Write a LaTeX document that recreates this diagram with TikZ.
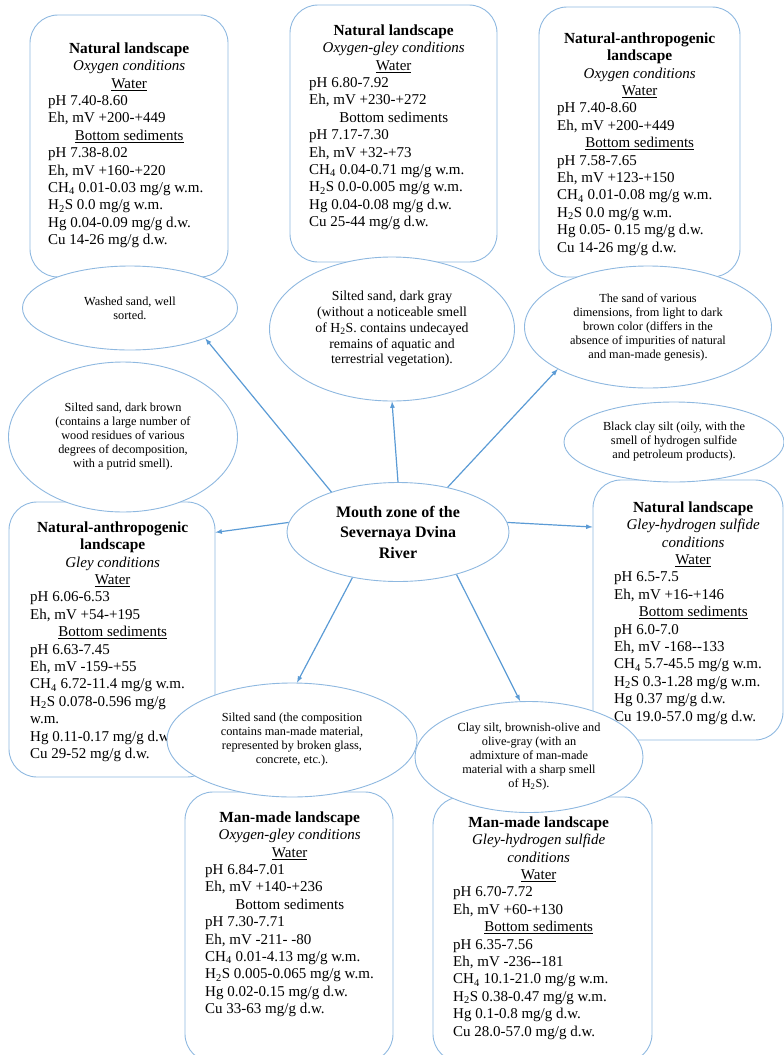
\documentclass[tikz,border=0pt]{standalone}
\usepackage{fontspec}
\setmainfont{Liberation Serif}
\usepackage{xcolor}
\usetikzlibrary{shapes.geometric}
\usetikzlibrary{arrows}
\definecolor{rimblue}{RGB}{142,184,224}
\definecolor{arrowblue}{RGB}{91,155,213}
\tikzset{
	landbox/.style={
		draw=rimblue,
		line width=.9pt,
		rectangle,
		rounded corners=28pt,
		inner sep=0pt
	},
	boxtext/.style={
		anchor=north west,
		align=left,
		inner sep=0pt,
		font=\fontsize{15}{17.4}\selectfont
	},
	soil/.style={
		draw=rimblue,
		fill=white,
		line width=.9pt,
		ellipse,
		align=center,
		inner sep=0pt,
		font=\fontsize{12.3}{14}\selectfont
	},
	ctrw/.code={\gdef\cw{#1}},
	link/.style={draw=arrowblue, line width=1.2pt, -latex}
}
\newcommand{\ctr}[1]{\makebox[\cw pt]{#1}}
\newcommand{\ttl}[1]{\ctr{\fontsize{15.4}{17.4}\selectfont\textbf{#1}}}
\newcommand{\cnd}[1]{\ctr{\textit{#1}}}
\newcommand{\chf}{CH\textsubscript{4}}
\newcommand{\hts}{H\textsubscript{2}S}

\begin{document}
\begin{tikzpicture}[x=1pt, y=-1pt]
		\clip (0,0) rectangle (784,1055);
		% landscape boxes
		\draw node[landbox, minimum width=198, minimum height=262] (NatOx) at (129,146) {};
		\draw node[landbox, minimum width=207, minimum height=257] (NatOxGley) at (393.5,133.5) {};
		\draw node[landbox, minimum width=201, minimum height=270] (NatAnthOx) at (639.5,142) {};
		\draw node[landbox, minimum width=206, minimum height=275] (NatAnthGley) at (112,639.5) {};
		\draw node[landbox, minimum width=190, minimum height=260] (NatGleyHS) at (688,610) {};
		\draw node[landbox, minimum width=208, minimum height=270] (ManOxGley) at (289,927) {};
		\draw node[landbox, minimum width=219, minimum height=265] (ManGleyHS) at (542.5,929.5) {};
		
		\node[boxtext, ctrw=162] (NatOxT) at (48,42.5) {\ttl{Natural landscape}\\ \cnd{Oxygen conditions}\\ \ctr{\underline{Water}}\\ pH 7.40-8.60\\ Eh, mV +200-+449\\ \ctr{\underline{Bottom sediments}}\\ pH 7.38-8.02\\ Eh, mV +160-+220\\ \chf{} 0.01-0.03 mg/g w.m.\\ \hts{} 0.0 mg/g w.m.\\ Hg 0.04-0.09 mg/g d.w.\\ Cu 14-26 mg/g d.w.};
		\node[boxtext, ctrw=169] (NatOxGleyT) at (309,24.5) {\ttl{Natural landscape}\\ \cnd{Oxygen-gley conditions}\\ \ctr{\underline{Water}}\\ pH 6.80-7.92\\ Eh, mV +230-+272\\ \ctr{Bottom sediments}\\ pH 7.17-7.30\\ Eh, mV +32-+73\\ \chf{} 0.04-0.71 mg/g w.m.\\ \hts{} 0.0-0.005 mg/g w.m.\\ Hg 0.04-0.08 mg/g d.w.\\ Cu 25-44 mg/g d.w.};
		\node[boxtext, ctrw=165] (NatAnthOxT) at (557,32.5) {\ttl{Natural-anthropogenic}\\ \ttl{landscape}\\ \cnd{Oxygen conditions}\\ \ctr{\underline{Water}}\\ pH 7.40-8.60\\ Eh, mV +200-+449\\ \ctr{\underline{Bottom sediments}}\\ pH 7.58-7.65\\ Eh, mV +123-+150\\ \chf{} 0.01-0.08 mg/g w.m.\\ \hts{} 0.0 mg/g w.m.\\ Hg 0.05- 0.15 mg/g d.w.\\ Cu 14-26 mg/g d.w.};
		\node[boxtext, ctrw=165] (NatAnthGleyT) at (30,521.5) {\ttl{Natural-anthropogenic}\\ \ttl{landscape}\\ \cnd{Gley conditions}\\ \ctr{\underline{Water}}\\ pH 6.06-6.53\\ Eh, mV +54-+195\\ \ctr{\underline{Bottom sediments}}\\ pH 6.63-7.45\\ Eh, mV -159-+55\\ \chf{} 6.72-11.4 mg/g w.m.\\ \hts{} 0.078-0.596 mg/g\\ w.m.\\ Hg 0.11-0.17 mg/g d.w\\ Cu 29-52 mg/g d.w.};
		\node[boxtext, ctrw=158] (NatGleyHST) at (614,501.5) {\ttl{Natural landscape}\\ \cnd{Gley-hydrogen sulfide}\\ \cnd{conditions}\\ \ctr{\underline{Water}}\\ pH 6.5-7.5\\ Eh, mV +16-+146\\ \ctr{\underline{Bottom sediments}}\\ pH 6.0-7.0\\ Eh, mV -168-{}-133\\ \chf{} 5.7-45.5 mg/g w.m.\\ \hts{} 0.3-1.28 mg/g w.m.\\ Hg 0.37 mg/g d.w.\\ Cu 19.0-57.0 mg/g d.w.};
		\node[boxtext, ctrw=169] (ManOxGleyT) at (205,811.5) {\ttl{Man-made landscape}\\ \cnd{Oxygen-gley conditions}\\ \ctr{\underline{Water}}\\ pH 6.84-7.01\\ Eh, mV +140-+236\\ \ctr{Bottom sediments}\\ pH 7.30-7.71\\ Eh, mV -211- -80\\ \chf{} 0.01-4.13 mg/g w.m.\\ \hts{} 0.005-0.065 mg/g w.m.\\ Hg 0.02-0.15 mg/g d.w.\\ Cu 33-63 mg/g d.w.};
		\node[boxtext, ctrw=171] (ManGleyHST) at (453,816.5) {\ttl{Man-made landscape}\\ \cnd{Gley-hydrogen sulfide}\\ \cnd{conditions}\\ \ctr{\underline{Water}}\\ pH 6.70-7.72\\ Eh, mV +60-+130\\ \ctr{\underline{Bottom sediments}}\\ pH 6.35-7.56\\ Eh, mV -236-{}-181\\ \chf{} 10.1-21.0 mg/g w.m.\\ \hts{} 0.38-0.47 mg/g w.m.\\ Hg 0.1-0.8 mg/g d.w.\\ Cu 28.0-57.0 mg/g d.w.};
		
		% sediment ellipses
		\draw node[soil, minimum width=215, minimum height=84] (Washed) at (130,308) {Washed sand, well\\ sorted.};
		\draw node[soil, minimum width=245, minimum height=144, font=\fontsize{13.8}{15.7}\selectfont] (SiltGray) at (392,329) {Silted sand, dark gray\\ (without a noticeable smell\\ of \hts. contains undecayed\\ remains of aquatic and\\ terrestrial vegetation).};
		\draw node[soil, minimum width=247, minimum height=122] (SandVar) at (648,327) {The sand of various\\ dimensions, from light to dark\\ brown color (differs in the\\ absence of impurities of natural\\ and man-made genesis).};
		\draw node[soil, minimum width=229, minimum height=150] (SiltBrown) at (123,437) {Silted sand, dark brown\\ (contains a large number of\\ wood residues of various\\ degrees of decomposition,\\ with a putrid smell).};
		\draw node[soil, minimum width=220, minimum height=80] (BlackSilt) at (674,442) {Black clay silt (oily, with the\\ smell of hydrogen sulfide\\ and petroleum products).};
		\draw node[soil, minimum width=250, minimum height=114] (SiltGlass) at (292,740) {Silted sand (the composition\\ contains man-made material,\\ represented by broken glass,\\ concrete, etc.).};
		\draw node[soil, minimum width=228, minimum height=111] (ClaySilt) at (529,757) {Clay silt, brownish-olive and\\ olive-gray (with an\\ admixture of man-made\\ material with a sharp smell\\ of \hts).};
		\draw node[soil, minimum width=222, minimum height=99, font=\fontsize{16}{20.5}\selectfont\bfseries] (Mouth) at (398,532) {Mouth zone of the\\ Severnaya Dvina\\ River};
		
		\draw[link] (Mouth.149) -- (Washed.-22);
		\draw[link] (Mouth.north) -- (SiltGray.south);
		\draw[link] (Mouth.42) -- (SandVar.205);
		\draw[link] (Mouth.175) -- (NatAnthGley.46);
		\draw[link] (Mouth.5) -- (NatGleyHS.139);
		\draw[link] (Mouth.225) -- (SiltGlass.85);
		\draw[link] (Mouth.-36) -- (ClaySilt.99);
	\end{tikzpicture}
\end{document}
